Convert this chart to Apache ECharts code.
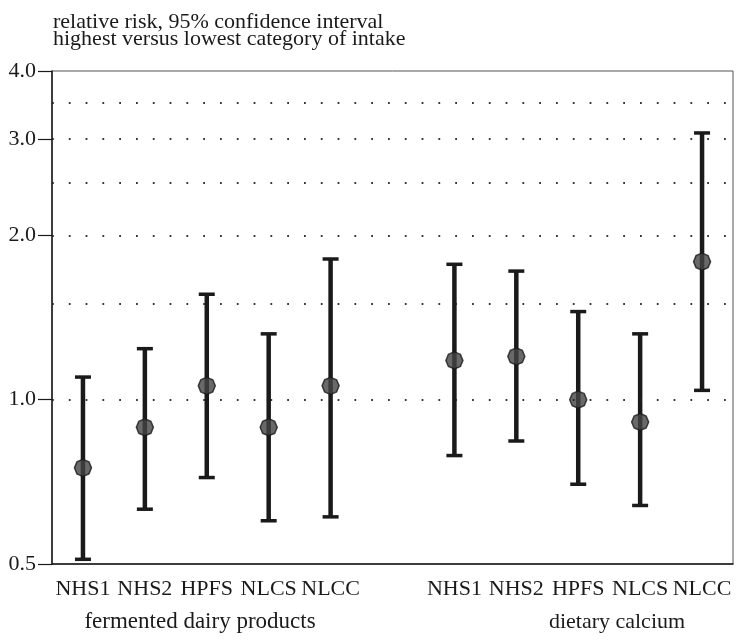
<!DOCTYPE html>
<html>
<head>
<meta charset="utf-8">
<style>
  html, body { margin: 0; padding: 0; background: #fff; }
  #chart { width: 737px; height: 642px; }
</style>
<script src="https://cdn.jsdelivr.net/npm/echarts@6/dist/echarts.min.js"></script>
</head>
<body>
<div id="chart"></div>
<script>
// Study cohorts, shown twice: once per exposure group, with an empty slot between
const studies = ['NHS1', 'NHS2', 'HPFS', 'NLCS', 'NLCC'];
const categories = [...studies, '', ...studies];

// Fermented dairy products: relative risk and 95% CI
const dairyRR   = [0.75, 0.89, 1.06, 0.89, 1.06];
const dairyLow  = [0.51, 0.63, 0.72, 0.60, 0.61];
const dairyHigh = [1.10, 1.24, 1.56, 1.32, 1.81];

// Dietary calcium: relative risk and 95% CI
const calciumRR   = [1.18, 1.20, 1.00, 0.91, 1.79];
const calciumLow  = [0.79, 0.84, 0.70, 0.64, 1.04];
const calciumHigh = [1.77, 1.72, 1.45, 1.32, 3.08];

// Y axis (log scale) labels and dotted reference lines
const yTickValues = [0.5, 1, 2, 3, 4];
const gridValues = [1, 1.5, 2, 2.5, 3, 3.5];

const titleLines = ['relative risk, 95% confidence interval',
                    'highest versus lowest category of intake'];
const groupNames = ['fermented dairy products', 'dietary calcium'];

const FONT = '"Liberation Serif", "Times New Roman", serif';
const INK = '#1a1a1a';

// Build [categoryIndex, low, high] and [categoryIndex, rr] rows
const ciRows = [];
const rrRows = [];
studies.forEach((s, i) => {
  ciRows.push([i, dairyLow[i], dairyHigh[i]]);
  rrRows.push([i, dairyRR[i]]);
});
studies.forEach((s, i) => {
  ciRows.push([i + 6, calciumLow[i], calciumHigh[i]]);
  rrRows.push([i + 6, calciumRR[i]]);
});

function renderErrorBar(params, api) {
  const x = api.value(0);
  const top = api.coord([x, api.value(2)]);
  const bot = api.coord([x, api.value(1)]);
  const capHalf = 8;
  const style = { stroke: INK, lineWidth: 4.5, lineCap: 'butt' };
  const capStyle = { stroke: INK, lineWidth: 3.5, lineCap: 'butt' };
  return {
    type: 'group',
    children: [
      { type: 'line', shape: { x1: top[0], y1: top[1], x2: bot[0], y2: bot[1] }, style: style },
      { type: 'line', shape: { x1: top[0] - capHalf, y1: top[1], x2: top[0] + capHalf, y2: top[1] }, style: capStyle },
      { type: 'line', shape: { x1: bot[0] - capHalf, y1: bot[1], x2: bot[0] + capHalf, y2: bot[1] }, style: capStyle }
    ]
  };
}

const chart = echarts.init(document.getElementById('chart'), null, { renderer: 'canvas' });

const octagon = 'path://M5,0 L8.54,1.46 L10,5 L8.54,8.54 L5,10 L1.46,8.54 L0,5 L1.46,1.46 Z';

chart.setOption({
  animation: false,
  backgroundColor: '#fff',
  grid: {
    left: 52, right: 4, top: 71, bottom: 78,
    show: true, borderColor: '#555', borderWidth: 1, backgroundColor: 'transparent'
  },
  graphic: [
    { type: 'text', left: 53, top: 11,
      style: { text: titleLines[0], font: '22px ' + FONT, fill: INK } },
    { type: 'text', left: 53, top: 28,
      style: { text: titleLines[1], font: '22px ' + FONT, fill: INK } },
    { type: 'text', x: 200, y: 622,
      style: { text: groupNames[0], font: '23px ' + FONT, fill: INK, align: 'center', verticalAlign: 'middle' } },
    { type: 'text', x: 617, y: 622,
      style: { text: groupNames[1], font: '22px ' + FONT, fill: INK, align: 'center', verticalAlign: 'middle' } }
  ],
  xAxis: {
    type: 'category',
    data: categories,
    boundaryGap: true,
    axisLine: { lineStyle: { color: INK, width: 1.5 } },
    axisTick: { alignWithLabel: true, interval: 0, length: 9, lineStyle: { color: INK, width: 1.2 } },
    axisLabel: { interval: 0, margin: 14, lineHeight: 22, fontFamily: FONT, fontSize: 22, color: INK },
    splitLine: { show: false }
  },
  yAxis: {
    type: 'log',
    logBase: 10,
    min: 0.5,
    max: 4,
    axisLine: { show: true, lineStyle: { color: INK, width: 1.5 } },
    axisTick: { show: true, customValues: yTickValues, length: 14, lineStyle: { color: INK, width: 1.2 } },
    axisLabel: {
      customValues: yTickValues,
      margin: 16,
      fontFamily: FONT, fontSize: 22, color: INK,
      formatter: v => Number(v).toFixed(1)
    },
    splitLine: { show: false },
    minorTick: { show: false },
    minorSplitLine: { show: false }
  },
  series: [
    {
      name: 'reference lines',
      type: 'line',
      data: [],
      silent: true,
      z: 1,
      markLine: {
        silent: true,
        symbol: ['none', 'none'],
        label: { show: false },
        lineStyle: { color: '#222', width: 1.8, type: [1.8, 15], opacity: 0.9 },
        data: gridValues.map(v => ({ yAxis: v }))
      }
    },
    {
      name: '95% CI',
      type: 'custom',
      renderItem: renderErrorBar,
      data: ciRows,
      encode: { x: 0, y: [1, 2] },
      z: 2
    },
    {
      name: 'relative risk',
      type: 'scatter',
      data: rrRows,
      symbol: octagon,
      symbolSize: 17,
      itemStyle: { color: '#444', borderColor: INK, borderWidth: 1.5 },
      z: 3
    }
  ]
});
</script>
</body>
</html>
